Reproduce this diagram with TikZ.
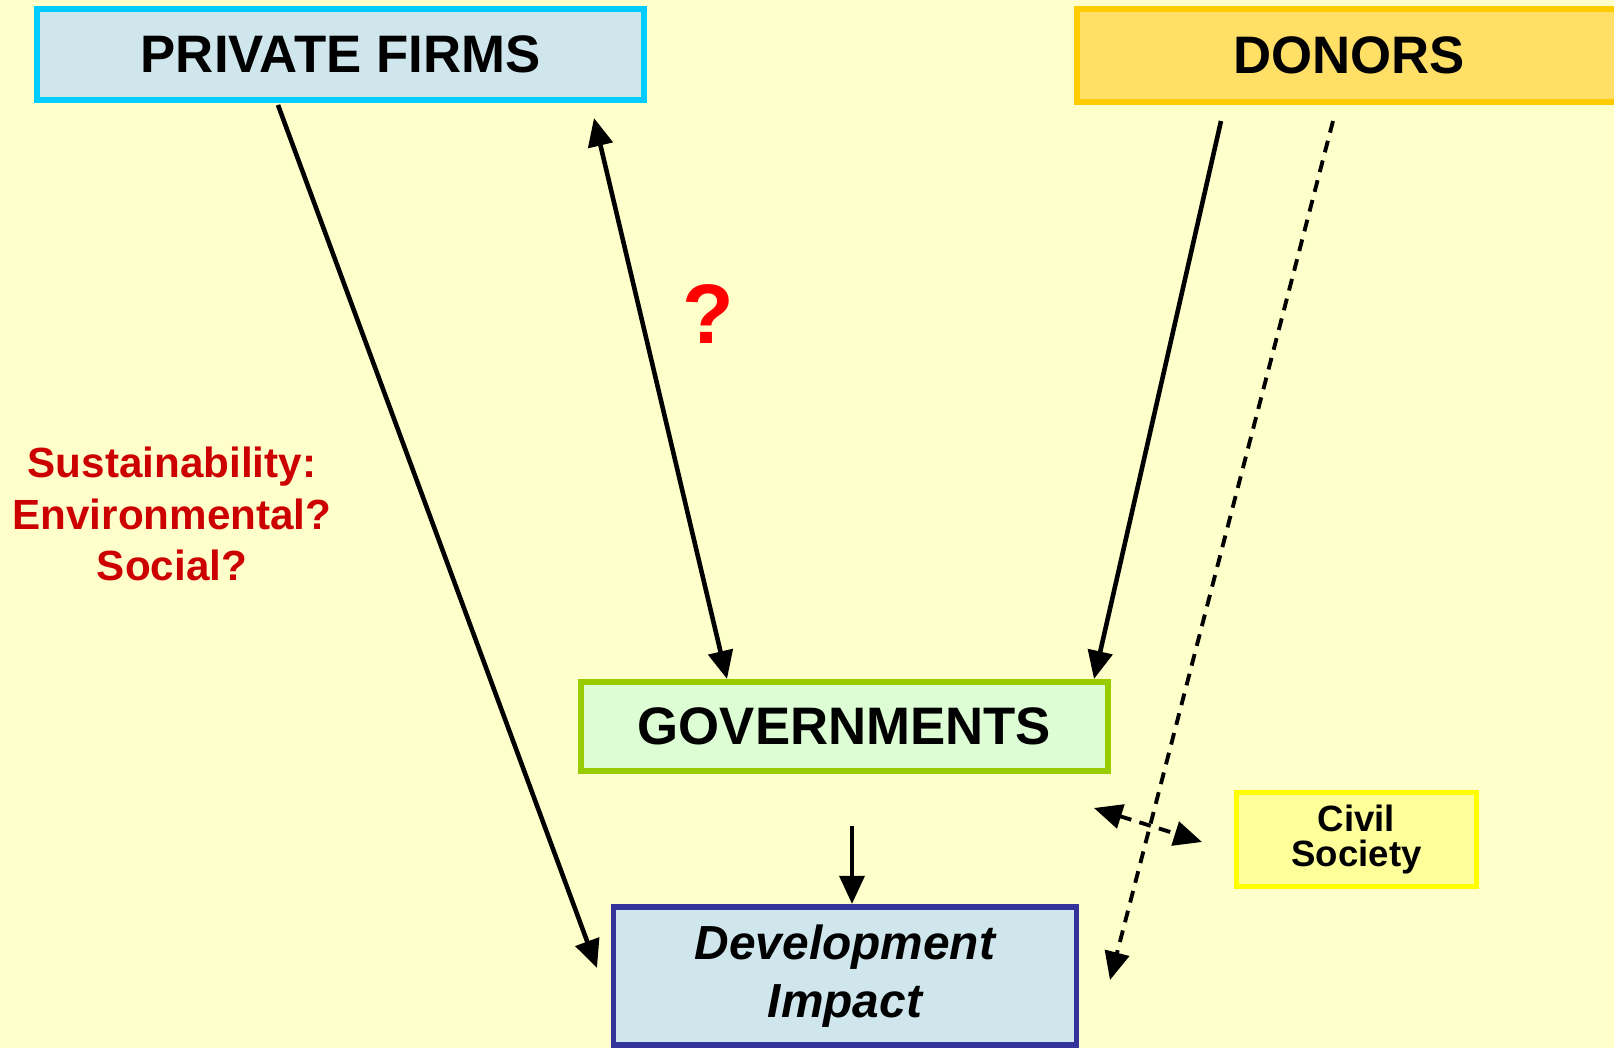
\documentclass[tikz,border=0pt]{standalone}
\usepackage{fontspec}
\setmainfont{Liberation Sans}
\usetikzlibrary{arrows.meta}

\definecolor{paper}{HTML}{FFFFCC}
\definecolor{firmline}{HTML}{00CCFF}
\definecolor{firmfill}{HTML}{CFE6EC}
\definecolor{donorline}{HTML}{FFCC00}
\definecolor{donorfill}{HTML}{FFDF66}
\definecolor{govline}{HTML}{99CC00}
\definecolor{govfill}{HTML}{DDFDD4}
\definecolor{devline}{HTML}{333399}
\definecolor{civline}{HTML}{FFFF00}
\definecolor{civfill}{HTML}{FFFF99}
\definecolor{susred}{HTML}{CC0000}

\begin{document}
\begin{tikzpicture}[x=0.01cm,y=-0.01cm,
  box/.style={draw, line width=1.8pt, inner sep=0pt, align=center,
    font=\bfseries\fontsize{15}{18}\selectfont},
  link/.style={line width=1.3pt, -{Triangle[length=8pt,width=7pt]}},
  twolink/.style={line width=1.3pt, {Triangle[length=8pt,width=7pt]}-{Triangle[length=8pt,width=7pt]}},
  dashlink/.style={line width=1.1pt, dash pattern=on 3.4pt off 2.4pt}]
\clip (0,0) rectangle (1614,1048);
\fill[paper] (0,0) rectangle (1614,1048);
% boxes
\node[box, draw=firmline, fill=firmfill, minimum width=6.07cm, minimum height=0.91cm]
  (firms) at (340.5,54.5) {PRIVATE FIRMS};
\node[box, draw=donorline, fill=donorfill, minimum width=5.44cm, minimum height=0.93cm]
  (donors) at (1349,55.5) {DONORS};
\node[box, draw=govline, fill=govfill, minimum width=5.27cm, minimum height=0.89cm]
  (gov) at (844.5,726.5) {GOVERNMENTS};
\node[box, draw=devline, fill=firmfill, line width=1.6pt, minimum width=4.63cm, minimum height=1.38cm,
  font=\bfseries\itshape\fontsize{13.6}{16.3}\selectfont]
  (impact) at (845,976) {Development\\Impact};
\node[box, draw=civline, fill=civfill, line width=1.6pt, minimum width=2.40cm, minimum height=0.94cm,
  font=\bfseries\fontsize{10.4}{9.7}\selectfont]
  (civil) at (1356.5,839.5) {Civil\\Society};
% labels
\node[text=susred, align=center, font=\bfseries\fontsize{12}{14.6}\selectfont]
  (sustain) at (172,514) {Sustainability:\\Environmental?\\Social?};
\node[text=red, font=\bfseries\fontsize{24}{28}\selectfont] (query) at (708,314) {?};
% arrow ends
\coordinate (firmsout) at (278,105);
\coordinate (firmsin) at (594,118);
\coordinate (govup) at (727,679);
\coordinate (donorsout) at (1221,121);
\coordinate (govright) at (1094,679);
\coordinate (donorsdash) at (1333,121);
\coordinate (impactright) at (1110,980);
\coordinate (impactleft) at (597,968);
\coordinate (govdown) at (852,826);
\coordinate (impacttop) at (852,904);
\coordinate (govcorner) at (1094,808);
\coordinate (civilleft) at (1202,842);
% arrows
\draw[link] (firmsout) -- (impactleft);
\draw[twolink] (firmsin) -- (govup);
\draw[link] (donorsout) -- (govright);
\draw[link, dashlink] (donorsdash) -- (impactright);
\draw[link] (govdown) -- (impacttop);
\draw[twolink, dashlink] (govcorner) -- (civilleft);
\end{tikzpicture}
\end{document}
